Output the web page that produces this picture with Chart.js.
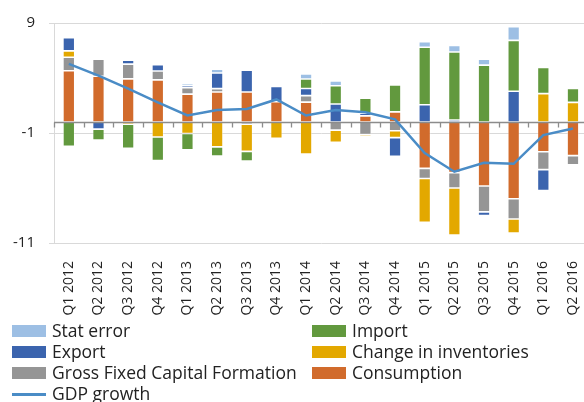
<!DOCTYPE html>
<html>
<head>
<meta charset="utf-8">
<script src="https://cdn.jsdelivr.net/npm/chart.js@4.4.1/dist/chart.umd.min.js"></script>
<style>
  html, body { margin: 0; padding: 0; background: #fff; overflow: hidden; }
  #wrap { position: relative; width: 600px; height: 320px; }
  #legend { position: absolute; left: 0; top: 320px; width: 584px; font-family: "Open Sans", sans-serif; font-size: 17.5px; color: #222; }
  .item { position: absolute; height: 21px; line-height: 21px; white-space: nowrap; }
  .sw { display: inline-block; width: 34px; height: 12px; vertical-align: middle; margin-right: 6px; position: relative; top: -1px; }
  .ln { display: inline-block; width: 34px; height: 3px; vertical-align: middle; margin-right: 6px; position: relative; top: -1px; }
</style>
</head>
<body>
<div id="wrap"><canvas id="chart" width="600" height="320"></canvas></div>
<div id="legend"></div>
<script>
// quarters
const quarters = ['Q1 2012', 'Q2 2012', 'Q3 2012', 'Q4 2012', 'Q1 2013', 'Q2 2013', 'Q3 2013', 'Q4 2013',
    'Q1 2014', 'Q2 2014', 'Q3 2014', 'Q4 2014', 'Q1 2015', 'Q2 2015', 'Q3 2015', 'Q4 2015', 'Q1 2016', 'Q2 2016'];

// contributions to growth
const consumption = [4.66, 4.16, 3.92, 3.83, 2.53, 2.73, 2.73, 1.84, 1.81, 0, 0.56, 0.92, -4.22, -4.6, -5.82, -6.98, -2.7, -3.06];
const grossFixed = [1.22, 1.54, 1.34, 0.8, 0.59, 0.3, -0.2, 0, 0.59, -0.74, -1.13, -0.8, -0.92, -1.4, -2.35, -1.84, -1.63, -0.83];
const inventories = [0.59, 0.05, -0.2, -1.37, -1.04, -2.26, -2.47, -1.49, -2.91, -1.1, -0.18, -0.62, -3.98, -4.28, 0, -1.28, 2.58, 1.78];
const exports = [1.19, -0.65, 0.36, 0.59, 0.18, 1.43, 1.99, 1.4, 0.65, 1.63, 0.24, -1.69, 1.57, 0.18, -0.33, 2.79, -1.9, 0];
const imports = [-2.2, -0.98, -2.2, -2.14, -1.49, -0.83, -0.89, 0.15, 0.86, 1.66, 1.37, 2.44, 5.23, 6.18, 5.17, 4.63, 2.38, 1.28];
const statError = [0.12, -0.15, -0.09, 0, 0.18, 0.33, 0, -0.15, 0.45, 0.45, 0, 0.12, 0.5, 0.59, 0.53, 1.25, 0, 0.1];
const gdpGrowth = [5.28, 4.22, 3.03, 1.78, 0.59, 1.1, 1.19, 2.05, 0.59, 1.1, 0.89, 0.24, -2.82, -4.52, -3.71, -3.8, -1.19, -0.59];

const yTicks = [-11, -1, 9];

const colors = {
    stat: '#9dbfe4',
    imp: '#62993e',
    exp: '#3b64ae',
    inv: '#e3a800',
    gfcf: '#959595',
    cons: '#d16b2c',
    gdp: '#4a8cc6'
};

function barSet(label, data, color) {
    return {
        type: 'bar',
        label: label,
        data: data,
        backgroundColor: color,
        borderColor: 'rgba(255,255,255,0.55)',
        borderWidth: 0.8,
        borderSkipped: false,
        stack: 's',
        order: 1,
        barPercentage: 0.4,
        categoryPercentage: 1
    };
}

// zero axis with category tick marks, drawn under the GDP line
const zeroAxis = {
    id: 'zeroAxis',
    beforeDatasetDraw(chart, args) {
        if (args.meta.type !== 'line') return;
        const ctx = chart.ctx;
        const xs = chart.scales.x;
        const y0 = Math.round(chart.scales.y.getPixelForValue(0)) + 0.5;
        const step = xs.width / quarters.length;
        ctx.save();
        ctx.strokeStyle = '#8c8c8c';
        ctx.lineWidth = 1.3;
        ctx.beginPath();
        ctx.moveTo(xs.left, y0);
        ctx.lineTo(xs.right, y0);
        for (let i = 0; i <= quarters.length; i++) {
            const x = Math.round(xs.left + i * step) + 0.5;
            ctx.moveTo(x, y0);
            ctx.lineTo(x, y0 + 5);
        }
        ctx.stroke();
        ctx.restore();
    }
};

new Chart(document.getElementById('chart'), {
    data: {
        labels: quarters,
        datasets: [
            barSet('Consumption', consumption, colors.cons),
            barSet('Gross Fixed Capital Formation', grossFixed, colors.gfcf),
            barSet('Change in inventories', inventories, colors.inv),
            barSet('Export', exports, colors.exp),
            barSet('Import', imports, colors.imp),
            barSet('Stat error', statError, colors.stat),
            {
                type: 'line',
                label: 'GDP growth',
                data: gdpGrowth,
                borderColor: colors.gdp,
                borderWidth: 2.5,
                pointRadius: 0,
                tension: 0,
                order: 0
            }
        ]
    },
    options: {
        responsive: false,
        animation: false,
        devicePixelRatio: 1,
        layout: { padding: { top: 19, right: 8, left: 0, bottom: 0 } },
        plugins: { legend: { display: false }, tooltip: { enabled: false } },
        scales: {
            x: {
                stacked: true,
                grid: { display: false },
                border: { display: false },
                ticks: {
                    autoSkip: false,
                    minRotation: 90,
                    maxRotation: 90,
                    padding: 10,
                    color: '#222',
                    font: { family: 'Open Sans', size: 14 }
                },
                afterFit(scale) { scale.height = 77; }
            },
            y: {
                stacked: true,
                min: -11,
                max: 9,
                afterBuildTicks(scale) { scale.ticks = yTicks.map(v => ({ value: v })); },
                grid: { color: '#d9d9d9', lineWidth: 1, tickLength: 5 },
                border: { color: '#d9d9d9' },
                ticks: {
                    padding: 14,
                    color: '#222',
                    font: { family: 'Open Sans', size: 15 }
                },
                afterFit(scale) { scale.width = 54; }
            }
        }
    },
    plugins: [zeroAxis]
});

// legend, two columns like the original
const legendItems = [
    ['Stat error', colors.stat, 'box'], ['Import', colors.imp, 'box'],
    ['Export', colors.exp, 'box'], ['Change in inventories', colors.inv, 'box'],
    ['Gross Fixed Capital Formation', colors.gfcf, 'box'], ['Consumption', colors.cons, 'box'],
    ['GDP growth', colors.gdp, 'line']
];
const legend = document.getElementById('legend');
legendItems.forEach((it, i) => {
    const d = document.createElement('div');
    d.className = 'item';
    d.style.left = (i % 2 === 0 ? 12 : 312) + 'px';
    d.style.top = (Math.floor(i / 2) * 21) + 'px';
    const s = document.createElement('span');
    s.className = it[2] === 'box' ? 'sw' : 'ln';
    s.style.background = it[1];
    d.appendChild(s);
    d.appendChild(document.createTextNode(it[0]));
    legend.appendChild(d);
});
</script>
</body>
</html>
